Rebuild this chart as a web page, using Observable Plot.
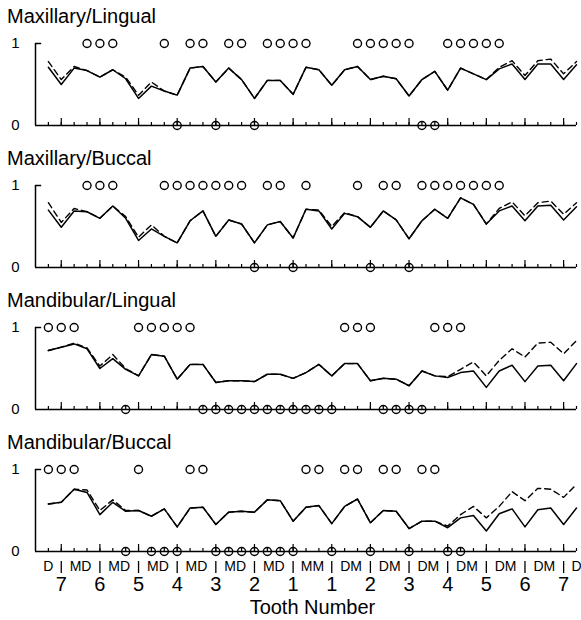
<!DOCTYPE html>
<html><head><meta charset="utf-8">
<script src="https://cdn.jsdelivr.net/npm/d3@7"></script>
<script src="https://cdn.jsdelivr.net/npm/@observablehq/plot@0.6"></script>
<style>
body{margin:0;background:#fff;}
#chart{position:relative;width:581px;height:620px;font-family:"Liberation Sans",Arial,sans-serif;overflow:hidden;}
.title{position:absolute;left:7px;font-size:20px;line-height:20px;color:#000;white-space:nowrap;}
</style></head><body><div id="chart"></div>
<script>
const panelTitles = ["Maxillary/Lingual", "Maxillary/Buccal", "Mandibular/Lingual", "Mandibular/Buccal"];
const teeth = ["7","6","5","4","3","2","1","1","2","3","4","5","6","7"];
const surfaceLabels = ["D","MD","MD","MD","MD","MD","MD","MM","DM","DM","DM","DM","DM","DM","D"];
const axisTitle = "Tooth Number";
const yTicks = [0, 1];

const mlSolid = [0.71,0.50,0.70,0.67,0.59,0.68,0.57,0.33,0.48,0.42,
  0.37,0.70,0.72,0.53,0.70,0.56,0.33,0.55,0.55,0.38,
  0.71,0.68,0.49,0.68,0.72,0.56,0.60,0.57,0.36,0.56,
  0.66,0.43,0.70,0.63,0.56,0.69,0.75,0.56,0.75,0.75,
  0.56,0.74];
const mlDashed = [0.78,0.56,0.72,0.67,0.59,0.68,0.59,0.37,0.53,0.42,
  0.37,0.70,0.72,0.53,0.70,0.56,0.33,0.55,0.55,0.38,
  0.71,0.68,0.49,0.68,0.72,0.56,0.60,0.57,0.36,0.56,
  0.66,0.43,0.70,0.63,0.56,0.71,0.79,0.61,0.79,0.81,
  0.63,0.78];
const mlTop = [3,4,5,9,11,12,14,15,17,18,19,20,24,25,26,27,28,31,32,33,34,35];
const mlBottom = [10,13,16,29,30];

const mbSolid = [0.70,0.49,0.69,0.68,0.60,0.75,0.60,0.33,0.47,0.38,
  0.30,0.57,0.69,0.38,0.58,0.53,0.30,0.52,0.56,0.36,
  0.71,0.69,0.47,0.66,0.62,0.49,0.69,0.58,0.35,0.57,
  0.71,0.60,0.85,0.77,0.53,0.69,0.75,0.57,0.75,0.76,
  0.58,0.74];
const mbDashed = [0.79,0.55,0.72,0.68,0.60,0.75,0.62,0.37,0.52,0.38,
  0.30,0.57,0.69,0.38,0.58,0.53,0.30,0.52,0.56,0.36,
  0.71,0.70,0.50,0.67,0.62,0.49,0.69,0.58,0.35,0.57,
  0.71,0.60,0.85,0.77,0.53,0.72,0.80,0.63,0.79,0.81,
  0.65,0.79];
const mbTop = [3,4,5,9,10,11,12,13,14,15,17,18,20,24,26,27,29,30,31,32,33,34,35];
const mbBottom = [16,19,25,28];

const dlSolid = [0.72,0.76,0.80,0.74,0.50,0.62,0.49,0.41,0.67,0.65,
  0.37,0.55,0.55,0.33,0.35,0.35,0.34,0.43,0.43,0.38,
  0.45,0.55,0.41,0.56,0.56,0.35,0.38,0.37,0.29,0.47,
  0.41,0.39,0.45,0.47,0.27,0.47,0.54,0.34,0.53,0.54,
  0.35,0.56];
const dlDashed = [0.72,0.76,0.81,0.75,0.53,0.67,0.50,0.41,0.67,0.65,
  0.37,0.55,0.55,0.33,0.35,0.35,0.34,0.43,0.43,0.38,
  0.45,0.55,0.41,0.56,0.56,0.35,0.38,0.37,0.29,0.47,
  0.41,0.40,0.49,0.58,0.41,0.60,0.74,0.64,0.81,0.82,
  0.68,0.84];
const dlTop = [0,1,2,7,8,9,10,11,23,24,25,30,31,32];
const dlBottom = [6,12,13,14,15,16,17,18,19,20,21,22,26,27,28,29];

const dbSolid = [0.58,0.60,0.76,0.72,0.45,0.60,0.49,0.50,0.43,0.52,
  0.30,0.53,0.54,0.33,0.48,0.49,0.48,0.63,0.62,0.37,
  0.54,0.56,0.34,0.55,0.64,0.35,0.50,0.49,0.28,0.37,
  0.37,0.29,0.41,0.44,0.25,0.46,0.52,0.30,0.51,0.53,
  0.33,0.53];
const dbDashed = [0.58,0.60,0.76,0.75,0.50,0.63,0.50,0.50,0.43,0.52,
  0.30,0.53,0.54,0.33,0.48,0.49,0.48,0.63,0.62,0.37,
  0.54,0.56,0.34,0.55,0.64,0.35,0.50,0.49,0.28,0.37,
  0.37,0.31,0.45,0.55,0.41,0.55,0.73,0.62,0.77,0.76,
  0.66,0.82];
const dbTop = [0,1,2,7,11,12,20,21,23,24,26,27,29,30];
const dbBottom = [6,8,9,10,13,14,15,16,17,18,19,22,25,28,31,32];

const panels = [
  {title: panelTitles[0], solid: mlSolid, dashed: mlDashed, top: mlTop, bottom: mlBottom},
  {title: panelTitles[1], solid: mbSolid, dashed: mbDashed, top: mbTop, bottom: mbBottom},
  {title: panelTitles[2], solid: dlSolid, dashed: dlDashed, top: dlTop, bottom: dlBottom},
  {title: panelTitles[3], solid: dbSolid, dashed: dbDashed, top: dbTop, bottom: dbBottom}
];

const chart = document.getElementById("chart");
const FONT = "'Liberation Sans', Arial, sans-serif";
const Y1 = [43, 185, 327, 469];
const PH = 82, MT = 17;
const nPos = mlSolid.length; // 42 surface positions
const lastPos = nPos - 1;
const allPos = mlSolid.map((d, i) => i);
const toothCenters = teeth.map((t, i) => 3 * i + 1);
const labelPos = surfaceLabels.map((s, i) => i === 0 ? 0 : (i === surfaceLabels.length - 1 ? lastPos : 3 * i - 0.5));

panels.forEach((p, k) => {
  const last = k === panels.length - 1;
  const mb = last ? 620 - (Y1[k] + PH) : 10;
  const marks = [
    Plot.ruleY([0], {x1: -1, x2: lastPos, strokeWidth: 1.5}),
    Plot.ruleX([-1], {y1: 0, y2: 1, strokeWidth: 1.5}),
    Plot.ruleY([1], {x1: -1, x2: -0.52, strokeWidth: 1.5}),
    Plot.ruleX(allPos, {y1: 0, y2: 3 / PH, strokeWidth: 1.2}),
    Plot.ruleX(toothCenters, {y1: 0, y2: 7 / PH, strokeWidth: 1.2}),
    Plot.text(yTicks, {x: -1, y: d => d, text: d => String(d), dx: -16, textAnchor: "end", fontSize: 15}),
    Plot.line(p.dashed, {x: (d, i) => i, y: d => d, stroke: "black", strokeWidth: 1.4, strokeDasharray: "6,4"}),
    Plot.line(p.solid, {x: (d, i) => i, y: d => d, stroke: "black", strokeWidth: 1.5}),
    Plot.dot(p.top, {x: d => d, y: 1, r: 4, stroke: "black", fill: "none", strokeWidth: 1.4}),
    Plot.dot(p.bottom, {x: d => d, y: 0, r: 4, stroke: "black", fill: "none", strokeWidth: 1.4})
  ];
  if (last) {
    marks.push(
      Plot.text(surfaceLabels, {x: (d, i) => labelPos[i], text: d => d, frameAnchor: "bottom", lineAnchor: "top", dy: 10, fontSize: 14}),
      Plot.ruleX(toothCenters, {y1: -10 / PH, y2: -22 / PH, strokeWidth: 1.3}),
      Plot.text(teeth, {x: (d, i) => toothCenters[i], text: d => d, frameAnchor: "bottom", lineAnchor: "top", dy: 25, fontSize: 20}),
      Plot.text([axisTitle], {x: (lastPos - 1) / 2 + 0.5, text: d => d, frameAnchor: "bottom", lineAnchor: "top", dy: 48, fontSize: 20})
    );
  }
  const svg = Plot.plot({
    width: 581,
    height: MT + PH + mb,
    marginTop: MT,
    marginBottom: mb,
    marginLeft: 35,
    marginRight: 5,
    x: {domain: [-1, lastPos], axis: null},
    y: {domain: [0, 1], axis: null},
    style: {fontFamily: FONT, background: "white", color: "black", overflow: "visible"},
    marks
  });
  svg.style.position = "absolute";
  svg.style.left = "0px";
  svg.style.top = (Y1[k] - MT) + "px";
  chart.appendChild(svg);
  const t = document.createElement("div");
  t.className = "title";
  t.textContent = p.title;
  t.style.top = (Y1[k] - 37) + "px";
  chart.appendChild(t);
});
</script></body></html>
